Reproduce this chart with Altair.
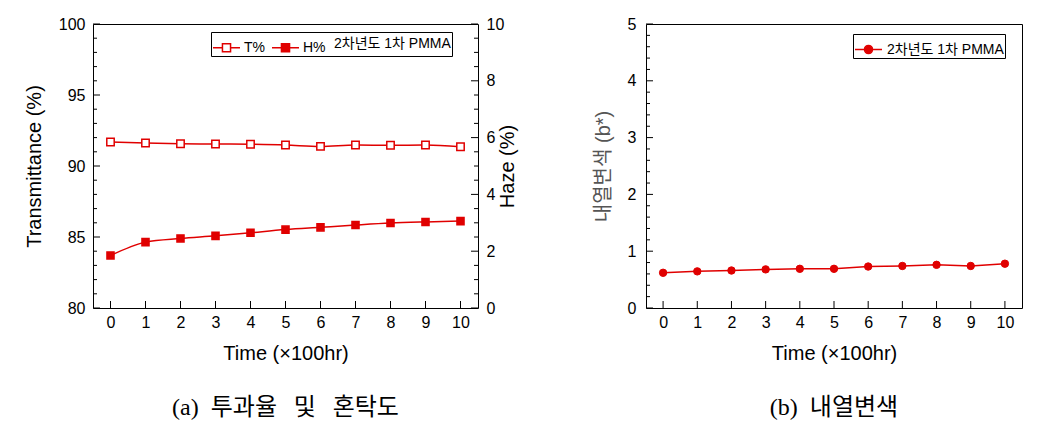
import altair as alt
import pandas as pd

# ---------------- data ----------------
time = [0, 1, 2, 3, 4, 5, 6, 7, 8, 9, 10]
transmittance = [91.69, 91.62, 91.57, 91.55, 91.53, 91.48, 91.38, 91.48, 91.46, 91.48, 91.36]
haze = [1.85, 2.32, 2.45, 2.54, 2.65, 2.76, 2.84, 2.92, 2.99, 3.03, 3.06]
b_star = [0.62, 0.645, 0.66, 0.68, 0.69, 0.69, 0.73, 0.74, 0.76, 0.74, 0.78]

x_ticks = [0, 1, 2, 3, 4, 5, 6, 7, 8, 9, 10]
t_major = [80, 85, 90, 95, 100]
t_minor = [81, 82, 83, 84, 86, 87, 88, 89, 91, 92, 93, 94, 96, 97, 98, 99]
h_major = [0, 2, 4, 6, 8, 10]
h_minor = [0.5, 1, 1.5, 2.5, 3, 3.5, 4.5, 5, 5.5, 6.5, 7, 7.5, 8.5, 9, 9.5]
b_major = [0, 1, 2, 3, 4, 5]
b_minor = [0.2, 0.4, 0.6, 0.8, 1.2, 1.4, 1.6, 1.8, 2.2, 2.4, 2.6, 2.8,
           3.2, 3.4, 3.6, 3.8, 4.2, 4.4, 4.6, 4.8]

series_a = ["T%", "H%"]
series_b = ["2차년도 1차 PMMA"]
legend_a_title = "2차년도 1차 PMMA"
caption_a = "(a)\u2002투과율\u2002\u2009및\u2002\u2009혼탁도"
caption_b = "(b)\u2002내열변색"

RED = "#e00000"
FONT = "Liberation Sans"
KFONT = "Liberation Sans, Noto Sans CJK KR"
CAPFONT = "Liberation Serif, Noto Sans CJK KR"

WA, HA = 385, 284
WB, HB = 376, 284
MAJ, MIN = 7, 4

df_t = pd.DataFrame({"time": time, "value": transmittance, "series": series_a[0]})
df_h = pd.DataFrame({"time": time, "value": haze, "series": series_a[1]})
df_b = pd.DataFrame({"time": time, "value": b_star, "series": series_b[0]})

xscale = alt.Scale(domain=[-0.5, 10.5], nice=False, zero=False)
x_axis = alt.Axis(values=x_ticks, title="Time (×100hr)", ticks=False, domain=False,
                  grid=False, labelFontSize=16, labelPadding=6, titleFontSize=20,
                  titlePadding=13, labelFont=FONT, titleFont=FONT, titleFontWeight="normal")


def y_axis(values, title, orient="left", tfont=FONT, tcolor="black", lpad=8):
    return alt.Axis(values=values, title=title, orient=orient, ticks=False, domain=False,
                    grid=False, labelFontSize=16, labelPadding=lpad, titleFontSize=20,
                    titlePadding=14, labelFont=FONT, titleFont=tfont, titleAngle=270,
                    titleFontWeight="normal", titleColor=tcolor)


def tick_layers(major, minor, scale, axis, side, w):
    """inward tick marks for a y scale"""
    out = []
    for vals, ln in ((major, MAJ), (minor, MIN)):
        d = pd.DataFrame({"value": vals})
        xv, x2v = (0, ln) if side == "left" else (w - ln, w)
        out.append(alt.Chart(d).mark_rule(color="black", strokeWidth=1).encode(
            y=alt.Y("value:Q", scale=scale, axis=axis),
            x=alt.value(xv), x2=alt.value(x2v)))
    return out


def x_tick_layer(h):
    d = pd.DataFrame({"time": x_ticks})
    return alt.Chart(d).mark_rule(color="black", strokeWidth=1).encode(
        x=alt.X("time:Q", scale=xscale, axis=x_axis),
        y=alt.value(h - MAJ), y2=alt.value(h))


sq_path = "M-1,0H-0.3M0.3,0H1M-0.3,-0.3H0.3V0.3H-0.3Z"
circ_path = "M-1,0H1M0.3,0A0.3,0.3 0 1,1 -0.3,0A0.3,0.3 0 1,1 0.3,0Z"

legend_a = alt.Legend(orient="none", legendX=118, legendY=8, direction="horizontal",
                      title=legend_a_title, titleOrient="right", titleFontWeight="normal",
                      titleFontSize=14, titleFont=KFONT, titlePadding=8,
                      labelFontSize=14, labelFont=FONT, symbolType=sq_path,
                      symbolSize=729, symbolStrokeColor=RED, symbolStrokeWidth=1.5,
                      strokeColor="black", padding=1, columnPadding=4, labelOffset=3)

# ---------------- chart (a) ----------------
tscale = alt.Scale(domain=[80, 100], nice=False, zero=False)
hscale = alt.Scale(domain=[0, 10], nice=False, zero=False)
t_axis = y_axis(t_major, "Transmittance (%)")
h_axis = y_axis(h_major, "Haze (%)", orient="right")
fill_a = alt.Fill("series:N", scale=alt.Scale(domain=series_a, range=["white", RED]),
                  legend=legend_a)

t_line = alt.Chart(df_t).mark_line(color=RED, strokeWidth=1.5, interpolate="monotone").encode(
    x=alt.X("time:Q", scale=xscale, axis=x_axis),
    y=alt.Y("value:Q", scale=tscale, axis=t_axis))
t_pts = alt.Chart(df_t).mark_point(shape="square", size=55, filled=True, stroke=RED,
                                   strokeWidth=1.5, opacity=1).encode(
    x=alt.X("time:Q", scale=xscale, axis=x_axis),
    y=alt.Y("value:Q", scale=tscale, axis=t_axis), fill=fill_a)

h_line = alt.Chart(df_h).mark_line(color=RED, strokeWidth=1.5, interpolate="monotone").encode(
    x=alt.X("time:Q", scale=xscale, axis=x_axis),
    y=alt.Y("value:Q", scale=hscale, axis=h_axis))
h_pts = alt.Chart(df_h).mark_point(shape="square", size=50, filled=True, stroke=RED,
                                   strokeWidth=1.5, opacity=1).encode(
    x=alt.X("time:Q", scale=xscale, axis=x_axis),
    y=alt.Y("value:Q", scale=hscale, axis=h_axis), fill=fill_a)

left_sub = alt.layer(t_line, t_pts, *tick_layers(t_major, t_minor, tscale, t_axis, "left", WA),
                     x_tick_layer(HA))
right_sub = alt.layer(h_line, h_pts,
                      *tick_layers(h_major, h_minor, hscale, h_axis, "right", WA))

chart_a = alt.layer(left_sub, right_sub).resolve_scale(y="independent").properties(
    width=WA, height=HA,
    title=alt.TitleParams(caption_a, orient="bottom", font=CAPFONT, fontSize=24,
                          fontWeight="normal", offset=33, color="black"))

# ---------------- chart (b) ----------------
bscale = alt.Scale(domain=[0, 5], nice=False, zero=False)
b_axis = y_axis(b_major, "내열변색 (b*)", tfont=KFONT, tcolor="#555555", lpad=10)
legend_b = alt.Legend(orient="none", legendX=207, legendY=10, title=None,
                      labelFontSize=14, labelFont=KFONT, symbolType=circ_path,
                      symbolSize=729, symbolStrokeColor=RED, symbolStrokeWidth=1.5,
                      strokeColor="black", padding=1, labelOffset=4)
fill_b = alt.Fill("series:N", scale=alt.Scale(domain=series_b, range=[RED]), legend=legend_b)

b_line = alt.Chart(df_b).mark_line(color=RED, strokeWidth=1.5).encode(
    x=alt.X("time:Q", scale=xscale, axis=x_axis),
    y=alt.Y("value:Q", scale=bscale, axis=b_axis))
b_pts = alt.Chart(df_b).mark_point(shape="circle", size=55, filled=True, stroke=RED,
                                   strokeWidth=1, opacity=1).encode(
    x=alt.X("time:Q", scale=xscale, axis=x_axis),
    y=alt.Y("value:Q", scale=bscale, axis=b_axis), fill=fill_b)

chart_b = alt.layer(b_line, b_pts, *tick_layers(b_major, b_minor, bscale, b_axis, "left", WB),
                    x_tick_layer(HB)).properties(
    width=WB, height=HB,
    title=alt.TitleParams(caption_b, orient="bottom", font=CAPFONT, fontSize=24,
                          fontWeight="normal", offset=33, color="black"))

chart = alt.hconcat(chart_a, chart_b, spacing=73).resolve_scale(
    fill="independent").resolve_legend(fill="independent").configure(
    padding={"left": 15, "top": 7, "right": 0, "bottom": 0},
    background="white").configure_view(stroke="black", strokeWidth=1)

chart.save("out.html", embed_options={"renderer": "svg", "actions": False})
